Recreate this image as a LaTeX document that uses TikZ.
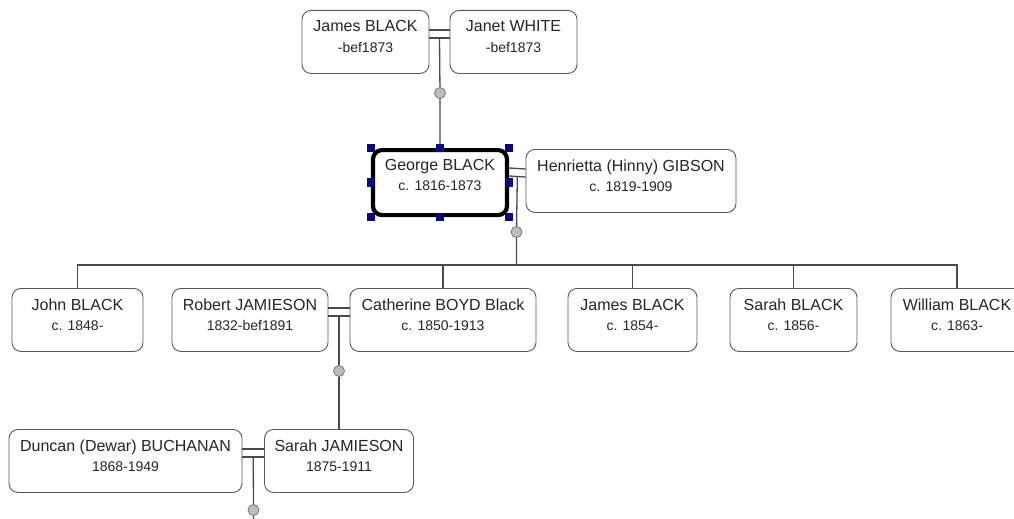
\documentclass[tikz,border=0pt]{standalone}
\usepackage{fontspec}
\setmainfont{Liberation Sans}
\usetikzlibrary{positioning}
\definecolor{linegray}{HTML}{4A4A4A}
\definecolor{boxgray}{HTML}{5A5A5A}
\definecolor{dotgray}{HTML}{BDBDBD}
\definecolor{handleblue}{HTML}{0A0A7A}
\tikzset{
    person/.style={draw=boxgray, line width=0.9pt, rounded corners=9pt, minimum height=63pt, anchor=north, inner sep=0pt, fill=white},
    pname/.style={font=\fontsize{16}{19}\selectfont, text=black!85, inner sep=0pt, anchor=base},
    pdate/.style={font=\fontsize{14}{17}\selectfont, text=black!85, inner sep=0pt, anchor=base},
    link/.style={draw=linegray, line width=1.3pt},
    knot/.style={circle, draw=gray, fill=dotgray, minimum size=11pt, inner sep=0pt, line width=0.9pt},
    handlebox/.style={fill=handleblue, minimum size=8.5pt, inner sep=0pt},
    chosen/.style={draw=black, line width=4.2pt, minimum height=65pt}
}
\newcommand{\person}[7][]{
    \node[person, minimum width=#5pt, #1] (#2) at (#3,#4) {};
    \node[pname] (#2n) at ([yshift=-22pt]#2.north) {#6};
    \node[pdate] (#2d) at ([yshift=-42.5pt]#2.north) {#7};
}
\newcommand{\wed}[3]{
    \draw[link] ([yshift=-20pt]#1.north east) -- ([yshift=-20pt]#2.north west);
    \draw[link] ([yshift=-28pt]#1.north east) -- coordinate (#3) ([yshift=-28pt]#2.north west);
}

\begin{document}
\begin{tikzpicture}[x=1pt,y=-1pt]
    \clip (0,0) rectangle (1014,519);
    \fill[white] (0,0) rectangle (1014,519);
    \person{jamessr}{365.5}{10}{127}{James BLACK}{-bef1873}
    \person{janet}{513.5}{10}{127}{Janet WHITE}{-bef1873}
    \person[chosen]{george}{440}{148}{134}{George BLACK}{c. 1816-1873}
    \person{henrietta}{631}{149}{210}{Henrietta (Hinny) GIBSON}{c. 1819-1909}
    \person{john}{77.5}{288}{131}{John BLACK}{c. 1848-}
    \person{robert}{250}{288}{156}{Robert JAMIESON}{1832-bef1891}
    \person{cath}{443}{288}{186}{Catherine BOYD Black}{c. 1850-1913}
    \person{jamesjr}{632.5}{288}{129}{James BLACK}{c. 1854-}
    \person{sarahb}{793.5}{288}{127}{Sarah BLACK}{c. 1856-}
    \person{william}{957}{288}{132}{William BLACK}{c. 1863-}
    \person{duncan}{125.5}{429}{233}{Duncan (Dewar) BUCHANAN}{1868-1949}
    \person{sarahj}{339}{429}{149}{Sarah JAMIESON}{1875-1911}

    \wed{jamessr}{janet}{m1}
    \node[knot] (k1) at (440,93) {};
    \draw[link] (m1) -- (k1) -- (george.north);

    \wed{george}{henrietta}{m2}
    \node[knot] (k2) at (516.5,232) {};
    \coordinate (bar) at (516.5,265);
    \draw[link] (m2) -- (k2) -- (bar);
    \foreach \kid in {john,cath,jamesjr,sarahb,william}
        \draw[link] (bar) -| (\kid.north);

    \wed{robert}{cath}{m3}
    \node[knot] (k3) at (339,371) {};
    \draw[link] (m3) -- (k3) -- (sarahj.north);

    \wed{duncan}{sarahj}{m4}
    \node[knot] (k4) at (253.5,510) {};
    \coordinate (tail) at (253.5,530);
    \draw[link] (m4) -- (k4) -- (tail);

    \foreach \a/\k in {north west/1,north/2,north east/3,east/4,south east/5,south/6,south west/7,west/8}
        \node[handlebox] (h\k) at (george.\a) {};
\end{tikzpicture}
\end{document}
